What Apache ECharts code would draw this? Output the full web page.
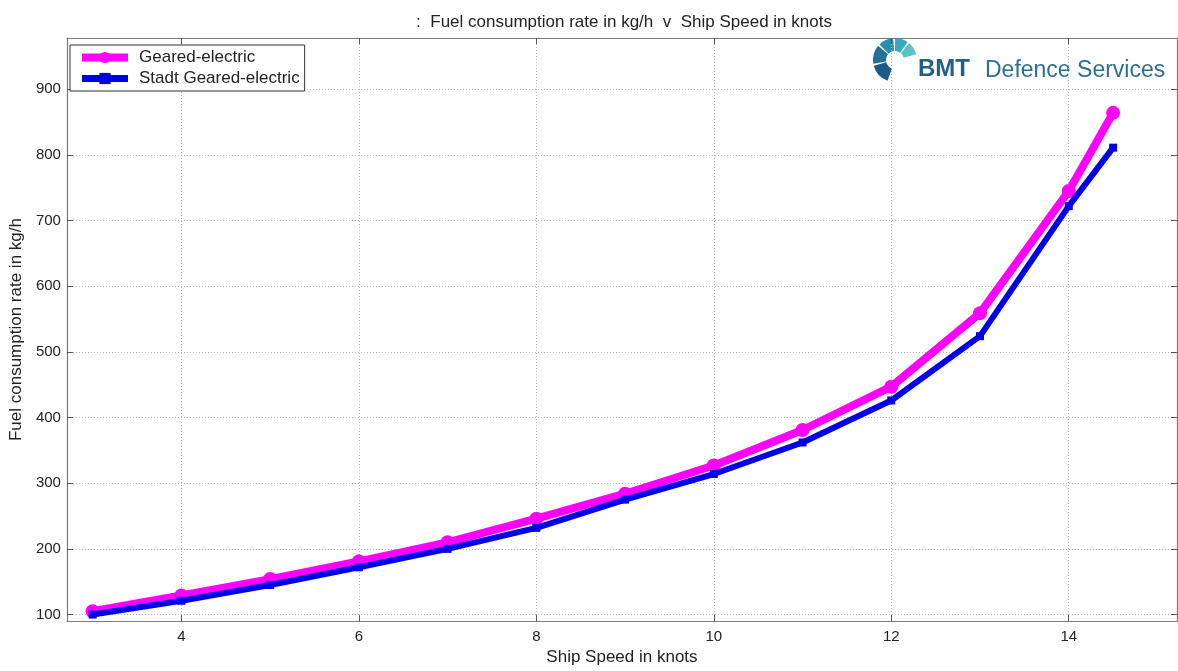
<!DOCTYPE html>
<html>
<head>
<meta charset="utf-8">
<script src="https://cdn.jsdelivr.net/npm/echarts@6/dist/echarts.min.js"></script>
<style>
  html, body { margin: 0; padding: 0; background: #fff; }
  #chart { width: 1178px; height: 671px; }
</style>
</head>
<body>
<div id="chart"></div>
<script>
// ship speed (knots) and fuel consumption (kg/h)
const speeds = [3, 4, 5, 6, 7, 8, 9, 10, 11, 12, 13, 14, 14.5]
const gearedElectric = [105, 129, 154, 181, 210, 246, 284, 327, 381, 447, 559, 745, 864]
const stadtGearedElectric = [100, 121, 145, 172, 200, 232, 275, 314, 362, 426, 524, 722, 811]
const xTicks = [4, 6, 8, 10, 12, 14]
const yTicks = [100, 200, 300, 400, 500, 600, 700, 800, 900]

const FONT = '"Liberation Sans", Arial, sans-serif'
const AXIS_GREY = '#7a7a7a'
const MAGENTA = '#ff00ff'
const BLUE = '#0000e6'

const chart = echarts.init(document.getElementById('chart'), null, { renderer: 'canvas' })

const pairs = ys => speeds.map((x, i) => [x, ys[i]])

const baseX = {
  type: 'value', min: 2.71, max: 15.22,
  axisLine: { show: true, onZero: false, lineStyle: { color: AXIS_GREY, width: 1.2 } },
  axisTick: { show: true, inside: true, length: 6, customValues: xTicks, lineStyle: { color: '#555' } },
}
const baseY = {
  type: 'value', min: 90, max: 978,
  axisLine: { show: true, onZero: false, lineStyle: { color: AXIS_GREY, width: 1.2 } },
  axisTick: { show: true, inside: true, length: 6, customValues: yTicks, lineStyle: { color: '#555' } },
}

// BMT logo mark, a ring of small segments
const logoSegs = [
  [195, 250, '#1d5a86'], [140, 190, '#22709a'], [95, 135, '#2c8db0'],
  [55, 90, '#3aa9c0'], [15, 50, '#5cc2c8'],
]
const logoParts = logoSegs.map(([a0, a1, c]) => ({
  type: 'sector',
  shape: { cx: 895, cy: 60, r0: 9, r: 22, startAngle: -a1 * Math.PI / 180, endAngle: -a0 * Math.PI / 180 },
  style: { fill: c },
}))

chart.setOption({
  animation: false,
  title: {
    text: ':  Fuel consumption rate in kg/h  v  Ship Speed in knots',
    left: 619, textAlign: 'center', top: 9,
    textStyle: { fontFamily: FONT, fontSize: 17, fontWeight: 'normal', color: '#222' },
  },
  grid: { left: 64, right: 1, top: 38, bottom: 42, containLabel: false },
  legend: {
    left: 70, top: 45, orient: 'vertical',
    backgroundColor: '#fff', borderColor: '#333', borderWidth: 1, borderRadius: 0,
    padding: [4, 5, 4, 8], itemGap: 4, itemWidth: 46, itemHeight: 14,
    textStyle: { fontFamily: FONT, fontSize: 17, color: '#222', padding: [0, 0, 0, 6] },
    data: [
      { name: 'Geared-electric', lineStyle: { width: 8 } },
      { name: 'Stadt Geared-electric', lineStyle: { width: 7 } },
    ],
  },
  xAxis: [
    {
      ...baseX, position: 'bottom',
      name: 'Ship Speed in knots', nameLocation: 'middle', nameGap: 26,
      nameTextStyle: { fontFamily: FONT, fontSize: 17, color: '#222' },
      axisLabel: { customValues: xTicks, fontFamily: FONT, fontSize: 15, color: '#222', margin: 8 },
      splitLine: { show: true, lineStyle: { color: '#b5b5b5', type: [1, 2], width: 1 } },
    },
    { ...baseX, position: 'top', axisLabel: { show: false }, splitLine: { show: false } },
  ],
  yAxis: [
    {
      ...baseY, position: 'left',
      name: 'Fuel consumption rate in kg/h', nameLocation: 'middle', nameGap: 37,
      nameTextStyle: { fontFamily: FONT, fontSize: 17, color: '#222' },
      axisLabel: { customValues: yTicks, fontFamily: FONT, fontSize: 15, color: '#222', margin: 6 },
      splitLine: { show: true, lineStyle: { color: '#b5b5b5', type: [1, 2], width: 1 } },
    },
    { ...baseY, position: 'right', axisLabel: { show: false }, splitLine: { show: false } },
  ],
  series: [
    {
      name: 'Geared-electric', type: 'line', z: 2,
      data: pairs(gearedElectric),
      symbol: 'circle', symbolSize: 14,
      lineStyle: { color: MAGENTA, width: 8 },
      itemStyle: { color: MAGENTA },
    },
    {
      name: 'Stadt Geared-electric', type: 'line', z: 3,
      data: pairs(stadtGearedElectric),
      symbol: 'rect', symbolSize: 8,
      lineStyle: { color: BLUE, width: 6 },
      itemStyle: { color: BLUE },
    },
  ],
  graphic: [
    ...logoParts,
    {
      type: 'text', left: 918, top: 57,
      style: { text: 'BMT', fontFamily: FONT, fontSize: 24, fontWeight: 'bold', fill: '#1f5f8f' },
    },
    {
      type: 'text', left: 985, top: 59,
      style: { text: 'Defence Services', fontFamily: FONT, fontSize: 23, fill: '#2d6f8e' },
    },
  ],
})
</script>
</body>
</html>
